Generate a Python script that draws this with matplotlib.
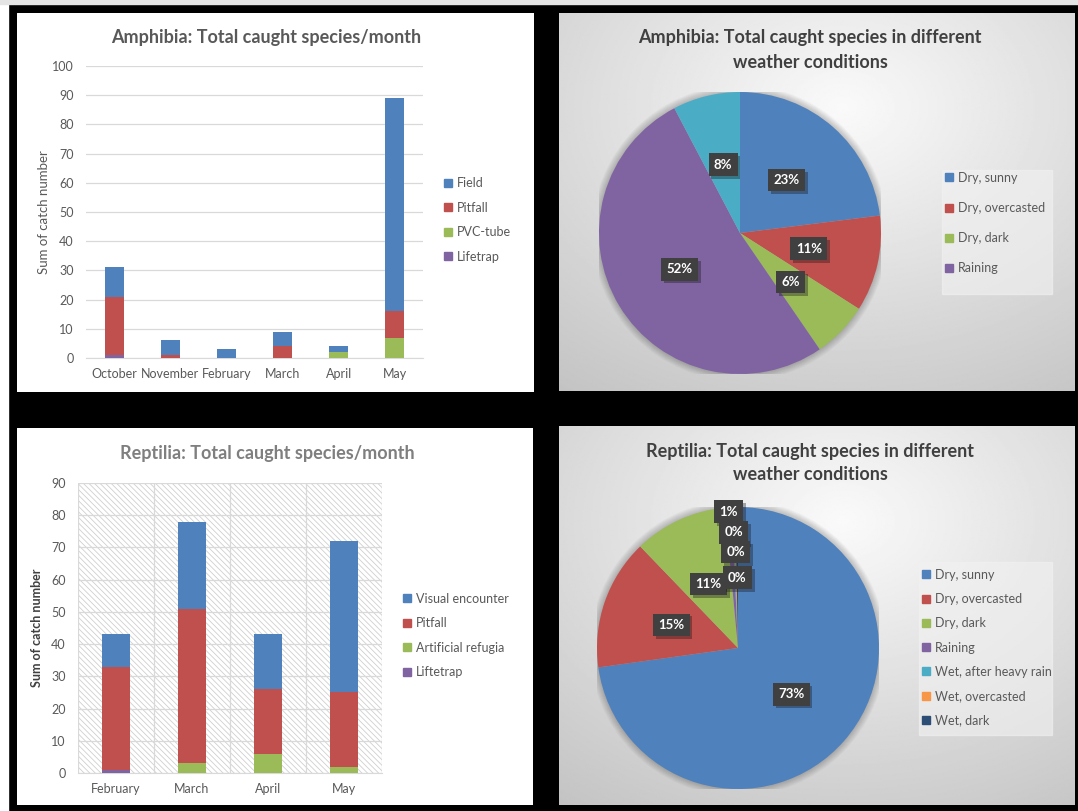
import matplotlib.pyplot as plt
import matplotlib.patheffects as pe
import numpy as np
from matplotlib.patches import Rectangle, Circle
from matplotlib.lines import Line2D

plt.rcParams['font.family'] = ['Lato', 'DejaVu Sans']
plt.rcParams['hatch.linewidth'] = 0.6

# amphibia catches per month, by method
amph_months = ['October', 'November', 'February', 'March', 'April', 'May']
amph_lifetrap = [1, 0, 0, 0, 0, 0]
amph_pvc = [0, 0, 0, 0, 2, 7]
amph_pitfall = [20, 1, 0, 4, 0, 9]
amph_field = [10, 5, 3, 5, 2, 73]

# reptilia catches per month, by method
rept_months = ['February', 'March', 'April', 'May']
rept_liftetrap = [1, 0, 0, 0]
rept_refugia = [0, 3, 6, 2]
rept_pitfall = [32, 48, 20, 23]
rept_visual = [10, 27, 17, 47]

# share of catches per weather condition (percent)
amph_weather = ['Dry, sunny', 'Dry, overcasted', 'Dry, dark', 'Raining', 'Wet, after heavy rain']
amph_weather_pct = [23.0, 11.0, 6.4, 51.8, 7.7]
rept_weather = ['Dry, sunny', 'Dry, overcasted', 'Dry, dark', 'Raining',
                'Wet, after heavy rain', 'Wet, overcasted', 'Wet, dark']
rept_weather_pct = [72.8, 15.0, 10.7, 0.8, 0.2, 0.2, 0.3]

BLUE, RED, GREEN, PURPLE = '#4f81bd', '#c0504d', '#9bbb59', '#8064a2'
CYAN, ORANGE, NAVY = '#4bacc6', '#f79646', '#2c4d75'
weather_colors = [BLUE, RED, GREEN, PURPLE, CYAN, ORANGE, NAVY]
GRID = '#d9d9d9'
TXT = '#595959'

W, H = 1078, 811
fig = plt.figure(figsize=(W / 100, H / 100), dpi=100, facecolor='black')


def px_axes(x0, y0, x1, y1, **kw):
    return fig.add_axes([x0 / W, 1 - y1 / H, (x1 - x0) / W, (y1 - y0) / H], **kw)


def fx(x):
    return x / W


def fy(y):
    return 1 - y / H


# page edge strips
fig.patches.append(Rectangle((0, 0), fx(8), 1, transform=fig.transFigure, color='white', zorder=-5))
fig.patches.append(Rectangle((0, fy(4)), 1, 4 / H, transform=fig.transFigure, color='#e4e4e4', zorder=-5))


def panel(x0, y0, x1, y1, gradient=False):
    ax = px_axes(x0, y0, x1, y1)
    ax.set_axis_off()
    if gradient:
        gx, gy = np.meshgrid(np.linspace(0, 1, 300), np.linspace(1, 0, 300))
        d = np.hypot(gx - 0.55, gy - 0.75)
        ax.imshow(0.98 - 0.23 * d, cmap='gray', vmin=0, vmax=1,
                  extent=[0, 1, 0, 1], aspect='auto')
    else:
        ax.add_patch(Rectangle((0, 0), 1, 1, color='white'))
    ax.set_xlim(0, 1)
    ax.set_ylim(0, 1)
    return ax


panel(17, 13, 534, 392)
panel(559, 13, 1075, 391, gradient=True)
panel(17, 428, 533, 805)
panel(559, 426, 1075, 805, gradient=True)


def stacked(ax, months, series, colors, width):
    x = np.arange(len(months))
    bottom = np.zeros(len(months))
    for vals, c in zip(series, colors):
        ax.bar(x, vals, width, bottom=bottom, color=c, zorder=3)
        bottom += np.array(vals)
    ax.set_xticks(x, months)
    ax.set_xlim(-0.5, len(months) - 0.5)
    for s in ['top', 'left', 'right']:
        ax.spines[s].set_visible(False)
    ax.spines['bottom'].set_color(GRID)
    ax.tick_params(length=0, colors=TXT, labelsize=9)
    ax.tick_params(axis='y', pad=9)
    ax.tick_params(axis='x', pad=7)
    ax.set_axisbelow(True)
    ax.grid(axis='y', color=GRID, lw=0.9)


def bar_legend(labels, colors, x, yc, spacing):
    handles = [Line2D([], [], marker='s', ls='none', color=c, markersize=6) for c in colors]
    fig.legend(handles, labels, loc='center left', bbox_to_anchor=(fx(x), fy(yc)),
               frameon=False, fontsize=9, handletextpad=0.3, borderpad=0,
               borderaxespad=0, handlelength=0.8, labelspacing=spacing, labelcolor=TXT)


# Amphibia bars
ax1 = px_axes(86, 66, 423, 358)
ax1.patch.set_alpha(0)
stacked(ax1, amph_months, [amph_lifetrap, amph_pvc, amph_pitfall, amph_field],
        [PURPLE, GREEN, RED, BLUE], 0.34)
ax1.set_ylim(0, 100)
ax1.set_yticks(range(0, 101, 10))
fig.text(fx(266), fy(37), 'Amphibia: Total caught species/month', ha='center', va='center',
         fontsize=13, fontweight='bold', color=TXT)
fig.text(fx(44), fy(212), 'Sum of catch number', rotation=90, ha='center', va='center',
         fontsize=9.5, color=TXT)
bar_legend(['Field', 'Pitfall', 'PVC-tube', 'Lifetrap'], [BLUE, RED, GREEN, PURPLE], 443, 220, 1.0)

# Reptilia bars on a hatched plot area
ax2 = px_axes(78, 483, 382, 773)
ax2.add_patch(Rectangle((0, 0), 1, 1, transform=ax2.transAxes, facecolor='white',
                        edgecolor='#cfcfcf', hatch='\\\\\\\\\\\\', lw=0, zorder=0))
stacked(ax2, rept_months, [rept_liftetrap, rept_refugia, rept_pitfall, rept_visual],
        [PURPLE, GREEN, RED, BLUE], 0.38)
ax2.set_ylim(0, 90)
ax2.set_yticks(range(0, 91, 10))
ax2.set_xticks(np.arange(-0.5, len(rept_months)), minor=True)
ax2.tick_params(which='minor', length=0)
ax2.grid(axis='x', which='minor', color=GRID, lw=0.9)
fig.text(fx(267), fy(453), 'Reptilia: Total caught species/month', ha='center', va='center',
         fontsize=13, fontweight='bold', color='#7f7f7f')
fig.text(fx(37), fy(628), 'Sum of catch number', rotation=90, ha='center', va='center',
         fontsize=9, fontweight='bold', color='#404040')
bar_legend(['Visual encounter', 'Pitfall', 'Artificial refugia', 'Liftetrap'],
           [BLUE, RED, GREEN, PURPLE], 402, 635.5, 1.0)


def weather_pie(cx, cy, r, values, label_r):
    ax = px_axes(cx - r, cy - r, cx + r, cy + r)
    ax.set_axis_off()
    for rr in np.linspace(1.05, 1.0, 10):
        ax.add_patch(Circle((0, 0), rr, color='black', alpha=0.022, lw=0, zorder=0))
    wedges, _, autotexts = ax.pie(values, colors=weather_colors[:len(values)], startangle=90,
                                  counterclock=False, autopct='%.0f%%', pctdistance=0.5,
                                  wedgeprops=dict(lw=0, zorder=1))
    for w, t, lr in zip(wedges, autotexts, label_r):
        ang = np.deg2rad((w.theta1 + w.theta2) / 2)
        t.set_position((lr * np.cos(ang), lr * np.sin(ang)))
        t.set(color='white', fontweight='bold', fontsize=9.5, zorder=5)
        t.set_bbox(dict(boxstyle='square,pad=0.4', fc='#404040', ec='none'))
        t.get_bbox_patch().set_path_effects([pe.SimplePatchShadow(offset=(2, -2), alpha=0.35),
                                             pe.Normal()])
    ax.set_xlim(-1, 1)
    ax.set_ylim(-1, 1)
    ax.set_aspect('equal')
    return ax


def pie_legend(labels, box, x, yc, spacing):
    x0, y0, x1, y1 = box
    fig.patches.append(Rectangle((fx(x0), fy(y1)), (x1 - x0) / W, (y1 - y0) / H,
                                 transform=fig.transFigure, color='#f2f2f2', alpha=0.6))
    handles = [Line2D([], [], marker='s', ls='none', color=c, markersize=6)
               for c in weather_colors[:len(labels)]]
    fig.legend(handles, labels, loc='center left', bbox_to_anchor=(fx(x), fy(yc)),
               frameon=False, fontsize=9, handletextpad=0.3, borderpad=0,
               borderaxespad=0, handlelength=0.8, labelspacing=spacing, labelcolor=TXT)


# Amphibia weather pie
weather_pie(740, 233, 141, amph_weather_pct, [0.5] * 5)
fig.text(fx(810), fy(50), 'Amphibia: Total caught species in different\nweather conditions',
         ha='center', va='center', fontsize=13, fontweight='bold', color='#404040',
         linespacing=1.5)
pie_legend(amph_weather[:4], (942, 170, 1052, 294), 944, 223, 1.45)

# Reptilia weather pie
weather_pie(738, 648, 141, rept_weather_pct, [0.5, 0.5, 0.5, 0.97, 0.82, 0.68, 0.5])
fig.text(fx(810), fy(463), 'Reptilia: Total caught species in different\nweather conditions',
         ha='center', va='center', fontsize=13, fontweight='bold', color='#404040',
         linespacing=1.4)
pie_legend(rept_weather, (919, 562, 1052, 735), 921, 647.5, 0.98)

fig.savefig('out.png', dpi=100, facecolor='black')
